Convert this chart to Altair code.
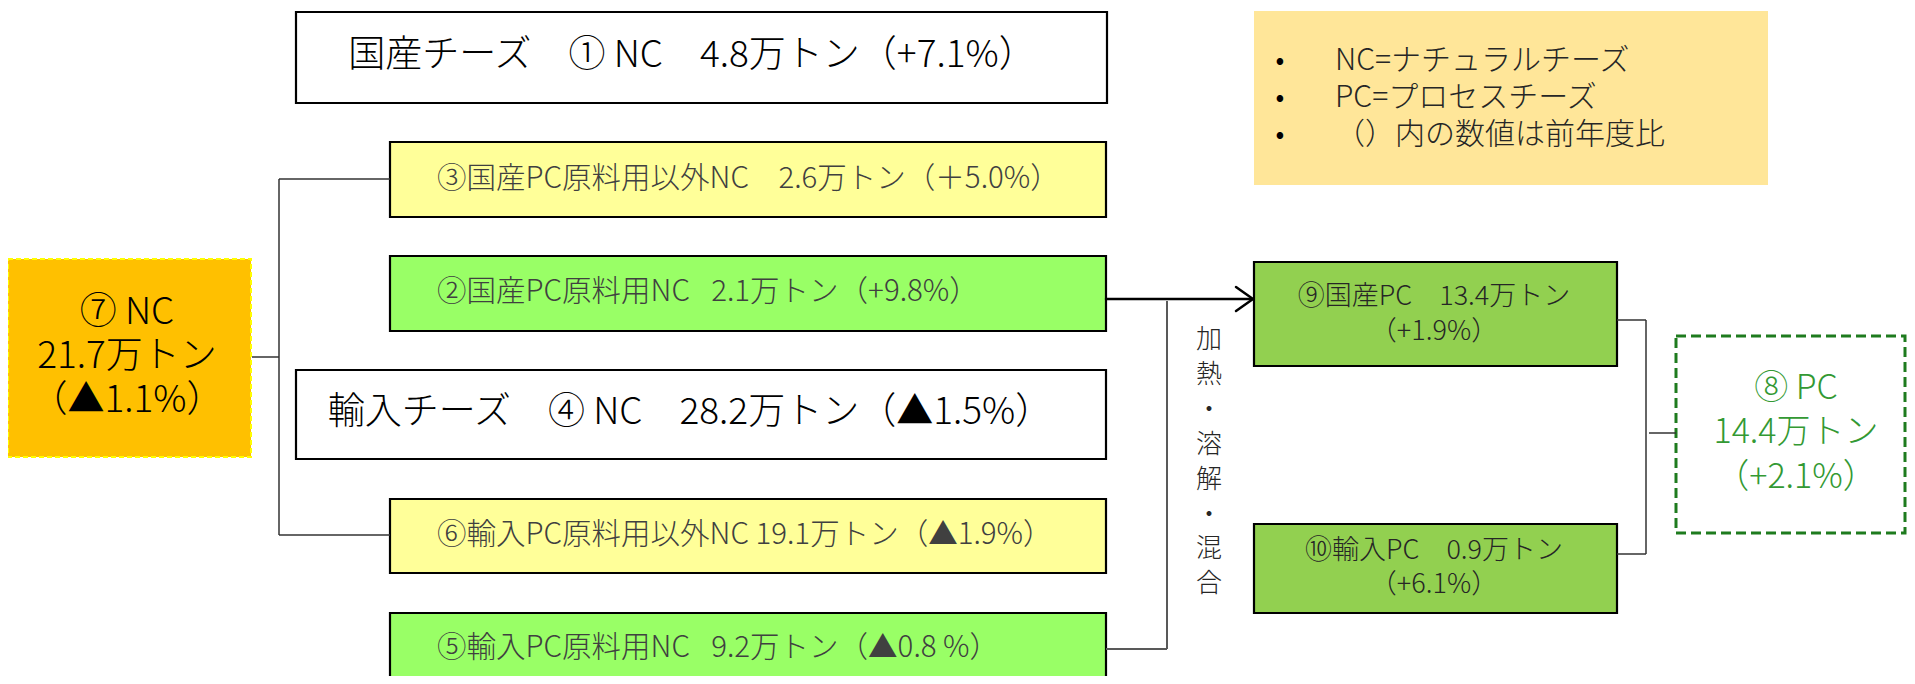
import altair as alt
import pandas as pd

# ---------------- content ----------------
box_names = ["①国産", "③国産以外", "②国産原料", "④輸入", "⑥輸入以外", "⑤輸入原料",
             "⑦NC", "⑨国産PC", "⑩輸入PC", "⑧PC", "legend"]
box_lines = [
    ["国産チーズ　① NC　4.8万トン（+7.1%）"],
    ["③国産PC原料用以外NC　2.6万トン（＋5.0%）"],
    ["②国産PC原料用NC\u2002\u00a02.1万トン（+9.8%）"],
    ["輸入チーズ　④ NC　28.2万トン（▲1.5%）"],
    ["⑥輸入PC原料用以外NC 19.1万トン（▲1.9%）"],
    ["⑤輸入PC原料用NC\u2002\u00a09.2万トン（▲0.8 %）"],
    ["⑦ NC", "21.7万トン", "（▲1.1%）"],
    ["⑨国産PC　13.4万トン", "（+1.9%）"],
    ["⑩輸入PC　0.9万トン", "（+6.1%）"],
    ["⑧ PC", "14.4万トン", "（+2.1%）"],
    [],
]
legend_items = ["NC=ナチュラルチーズ", "PC=プロセスチーズ", "（）内の数値は前年度比"]
process_chars = ["加", "熱", "・", "溶", "解", "・", "混", "合"]

# ---------------- layout (page pixels) ----------------
bx0 = [296, 390, 390, 296, 390, 390, 8, 1254, 1254, 1676, 1254]
bx1 = [1107, 1106, 1106, 1106, 1106, 1106, 251, 1617, 1617, 1905, 1768]
by0 = [12, 142, 256, 370, 499, 613, 259, 262, 524, 336, 11]
by1 = [103, 217, 331, 459, 573, 700, 457, 366, 613, 533, 185]
bfill = ["#FFFFFF", "#FFFF99", "#99FF66", "#FFFFFF", "#FFFF99", "#99FF66",
         "#FFC000", "#92D050", "#92D050", "#FFFFFF", "#FFE699"]
bkind = ["solid", "solid", "solid", "solid", "solid", "solid",
         "dash_y", "solid", "solid", "dash_g", "none"]
talign = ["center", "left", "left", "center", "left", "left",
          "center", "center", "center", "center", "center"]
tx = [692, 437, 437, 690, 437, 437, 127, 1434, 1434, 1796, 0]
ty = [56, 179, 292, 413, 535, 648, 357, 314, 568, 433, 0]
tlh = [0, 0, 0, 0, 0, 0, 44, 35, 34, 44.5, 0]
tsize = [37, 29.5, 29.5, 37, 29.5, 29.5, 37, 27, 27, 34, 0]
tcolor = ["#000000", "#404040", "#404040", "#000000", "#404040", "#404040",
          "#000000", "#262626", "#262626", "#339933", "#000000"]

legend_x = 1335
legend_bullet_x = 1280
legend_y = [61, 98, 135]
proc_x = 1209
proc_y0 = 340
proc_step = 34.9

# connectors: x, y, x2, y2, kind
seg_x = [279, 279, 279, 252, 1106, 1236, 1236, 1167, 1106, 1617, 1646, 1617, 1649]
seg_y = [179, 179, 535, 357, 299, 287, 311, 301, 649, 320, 320, 554, 433]
seg_x2 = [279, 390, 390, 279, 1252, 1253, 1253, 1167, 1167, 1646, 1646, 1646, 1676]
seg_y2 = [535, 179, 535, 357, 299, 299, 299, 649, 649, 320, 554, 554, 433]
seg_kind = ["thin", "thin", "thin", "thin", "arrow", "arrow", "arrow",
            "gray", "gray", "thin", "thin", "thin", "thin"]

W, H = 1899, 668
FONT = "Noto Sans CJK JP"

boxes = pd.DataFrame({"name": box_names, "x0": bx0, "x1": bx1, "y0": by0, "y1": by1,
                      "fill": bfill, "kind": bkind})

rows = []
for i, lines in enumerate(box_lines):
    n = len(lines)
    for j, t in enumerate(lines):
        rows.append({"text": t, "x": tx[i], "y": ty[i] + (j - (n - 1) / 2) * tlh[i],
                     "size": tsize[i], "color": tcolor[i], "align": talign[i]})
texts = pd.DataFrame(rows)

legend = pd.DataFrame({"text": legend_items, "y": legend_y,
                       "x": [legend_x] * 3, "bx": [legend_bullet_x] * 3})
proc = pd.DataFrame({"text": process_chars,
                     "y": [proc_y0 + k * proc_step for k in range(len(process_chars))],
                     "x": [proc_x] * len(process_chars)})
segs = pd.DataFrame({"x": seg_x, "y": seg_y, "x2": seg_x2, "y2": seg_y2, "kind": seg_kind})

xs = alt.Scale(domain=[8, 8 + W], nice=False, zero=False)
ys = alt.Scale(domain=[8, 8 + H], nice=False, zero=False, reverse=True)


def X(f):
    return alt.X(f, type="quantitative", scale=xs, axis=None)


def Y(f):
    return alt.Y(f, type="quantitative", scale=ys, axis=None)


base_b = alt.Chart(boxes)
solid = base_b.transform_filter("datum.kind == 'solid'").mark_rect(
    stroke="#000000", strokeWidth=2.2, clip=True
).encode(x=X("x0"), x2="x1", y=Y("y0"), y2="y1", fill=alt.Fill("fill:N", scale=None))
dash_y = base_b.transform_filter("datum.kind == 'dash_y'").mark_rect(
    stroke="#FFFF00", strokeWidth=2, strokeDash=[5, 3], clip=True
).encode(x=X("x0"), x2="x1", y=Y("y0"), y2="y1", fill=alt.Fill("fill:N", scale=None))
dash_g = base_b.transform_filter("datum.kind == 'dash_g'").mark_rect(
    stroke="#1E7B1E", strokeWidth=3, strokeDash=[10, 5], clip=True
).encode(x=X("x0"), x2="x1", y=Y("y0"), y2="y1", fill=alt.Fill("fill:N", scale=None))
nostroke = base_b.transform_filter("datum.kind == 'none'").mark_rect(clip=True).encode(
    x=X("x0"), x2="x1", y=Y("y0"), y2="y1", fill=alt.Fill("fill:N", scale=None))

base_s = alt.Chart(segs)
thin = base_s.transform_filter("datum.kind == 'thin'").mark_rule(
    color="#333333", strokeWidth=1.5).encode(x=X("x"), y=Y("y"), x2="x2", y2="y2")
gray = base_s.transform_filter("datum.kind == 'gray'").mark_rule(
    color="#595959", strokeWidth=2).encode(x=X("x"), y=Y("y"), x2="x2", y2="y2")
arrow = base_s.transform_filter("datum.kind == 'arrow'").mark_rule(
    color="#000000", strokeWidth=2.5, strokeCap="round").encode(
    x=X("x"), y=Y("y"), x2="x2", y2="y2")

base_t = alt.Chart(texts)
t_center = base_t.transform_filter("datum.align == 'center'").mark_text(
    font=FONT, align="center", baseline="middle", fontWeight=300
).encode(x=X("x"), y=Y("y"), text="text:N",
         size=alt.Size("size:Q", scale=None), color=alt.Color("color:N", scale=None))
t_left = base_t.transform_filter("datum.align == 'left'").mark_text(
    font=FONT, align="left", baseline="middle", fontWeight=300
).encode(x=X("x"), y=Y("y"), text="text:N",
         size=alt.Size("size:Q", scale=None), color=alt.Color("color:N", scale=None))

leg_text = alt.Chart(legend).mark_text(
    font=FONT, align="left", baseline="middle", fontSize=30, color="#262626", fontWeight=300
).encode(x=X("x"), y=Y("y"), text="text:N")
leg_bullet = alt.Chart(legend).mark_text(
    font=FONT, align="center", baseline="middle", fontSize=26, color="#000000"
).encode(x=X("bx"), y=Y("y"), text=alt.value("•"))

proc_text = alt.Chart(proc).mark_text(
    font=FONT, align="center", baseline="middle", fontSize=26, color="#262626", fontWeight=300
).encode(x=X("x"), y=Y("y"), text="text:N")

chart = alt.layer(
    nostroke, solid, dash_y, dash_g, thin, gray, arrow,
    t_center, t_left, leg_bullet, leg_text, proc_text
).properties(width=W, height=H, padding=0, autosize="none").configure_view(stroke=None)

chart.save("out.html", embed_options={"renderer": "svg", "actions": False})
